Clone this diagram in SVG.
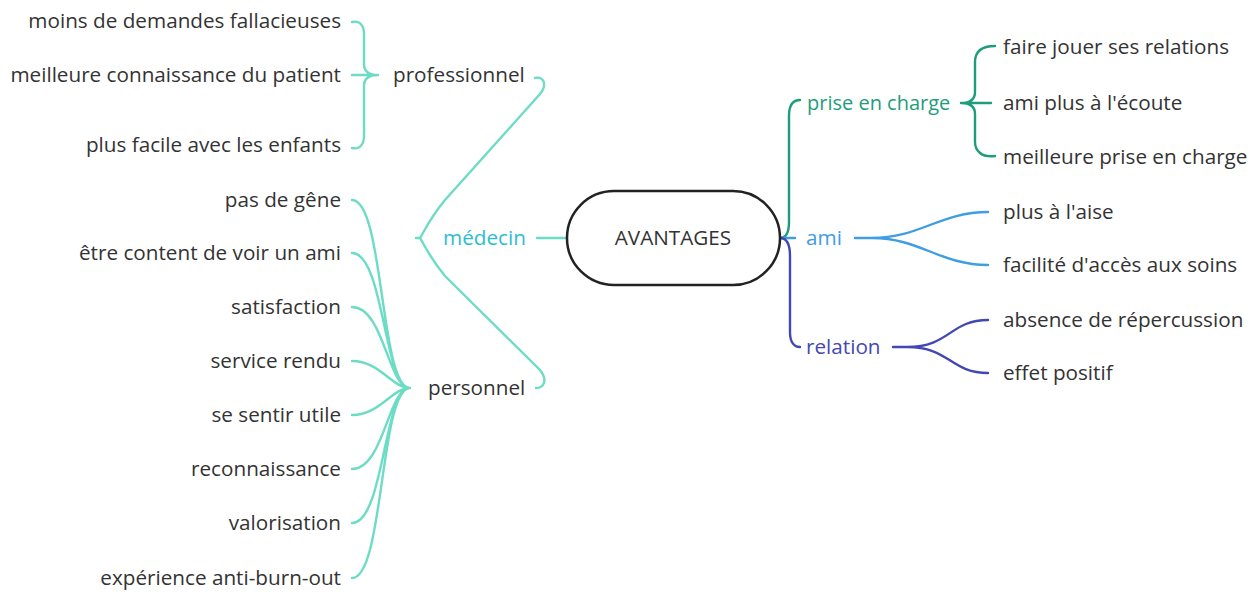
<svg xmlns="http://www.w3.org/2000/svg" width="1259" height="592" viewBox="0 0 1259 592">
<style>
text{font-family:"Open Sans","Liberation Sans",sans-serif;font-size:20.7px;fill:#333}
.l{text-anchor:end}
.c{fill:none;stroke-width:2.4;stroke-linecap:round}
.aqua{stroke:#6ddcc5}
.green{stroke:#1e9d7c}
.blue{stroke:#3f9de2}
.navy{stroke:#4248b2}
</style>
<rect width="1259" height="592" fill="#fff"/>
<g id="connectors">
<path class="c aqua" d="M352 22 C360 20 364 26 364 34 L364 64 C364 71 368 75 378 75 M352 148 C360 150 364 144 364 136 L364 86 C364 79 368 75 378 75 M352 75 L378 75"/>
<path class="c aqua" d="M535 78 C543 76 548 84 540 94 L445 200 C430 218 425 230 420 238 C425 246 430 258 445 276 L540 370 C548 380 544 388 536 388 M416 238 L420 238 M537 238 L566 238"/>
<path class="c aqua" d="M352 200 C384 200 380 388 410 388 M352 253 C384 253 384 388 410 388 M352 307 C384 307 388 388 410 388 M352 361 C380 361 392 388 410 388 M352 415 C380 415 392 388 410 388 M352 469 C384 469 388 388 410 388 M352 523 C384 523 384 388 410 388 M352 578 C384 578 380 388 410 388"/>
<path class="c green" d="M800 100 C792 100 789 106 789 116 L789 222 C789 232 786 238 780 238"/>
<path class="c blue" d="M780 238 L795 238"/>
<path class="c navy" d="M780 238 C786 238 790 244 790 256 L790 332 C790 342 794 347 800 347"/>
<path class="c green" d="M995 46 C981 46 975 52 975 62 L975 92 C975 99 970 103 961 103 M995 156 C981 158 975 150 975 142 L975 114 C975 107 970 103 961 103 M961 103 L991 103"/>
<path class="c blue" d="M855 238 L872 238 C920 238 940 212 988 212 M872 238 C920 238 940 265 988 265"/>
<path class="c navy" d="M893 347 L907 347 C950 347 950 320 988 320 M907 347 C950 347 950 373 988 373"/>
</g>
<g id="root"><rect x="567" y="191" width="213" height="94" rx="47" fill="#fff" stroke="#222" stroke-width="2.5"/><text x="673" y="245" text-anchor="middle">AVANTAGES</text></g>
<g id="medecin"><text x="443" y="245" style="fill:#2dbdd2">médecin</text></g>
<g id="professionnel"><text x="393" y="82">professionnel</text></g>
<g id="personnel"><text x="428" y="395">personnel</text></g>
<g id="p1"><text class="l" x="341" y="28">moins de demandes fallacieuses</text></g>
<g id="p2"><text class="l" x="341" y="82">meilleure connaissance du patient</text></g>
<g id="p3"><text class="l" x="341" y="152">plus facile avec les enfants</text></g>
<g id="q1"><text class="l" x="341" y="207">pas de gêne</text></g>
<g id="q2"><text class="l" x="341" y="260">être content de voir un ami</text></g>
<g id="q3"><text class="l" x="341" y="314">satisfaction</text></g>
<g id="q4"><text class="l" x="341" y="368">service rendu</text></g>
<g id="q5"><text class="l" x="341" y="422">se sentir utile</text></g>
<g id="q6"><text class="l" x="341" y="476">reconnaissance</text></g>
<g id="q7"><text class="l" x="341" y="530">valorisation</text></g>
<g id="q8"><text class="l" x="341" y="585">expérience anti-burn-out</text></g>
<g id="prise"><text x="807" y="110" style="fill:#1e9d7c;font-size:20px">prise en charge</text></g>
<g id="ami"><text x="806" y="245" style="fill:#3f9de2">ami</text></g>
<g id="relation"><text x="806" y="354" style="fill:#4248b2">relation</text></g>
<g id="r1"><text x="1003" y="54">faire jouer ses relations</text></g>
<g id="r2"><text x="1003" y="110">ami plus à l'écoute</text></g>
<g id="r3"><text x="1003" y="164">meilleure prise en charge</text></g>
<g id="a1"><text x="1003" y="219">plus à l'aise</text></g>
<g id="a2"><text x="1003" y="272">facilité d'accès aux soins</text></g>
<g id="b1"><text x="1003" y="327">absence de répercussion</text></g>
<g id="b2"><text x="1003" y="380">effet positif</text></g>
</svg>
